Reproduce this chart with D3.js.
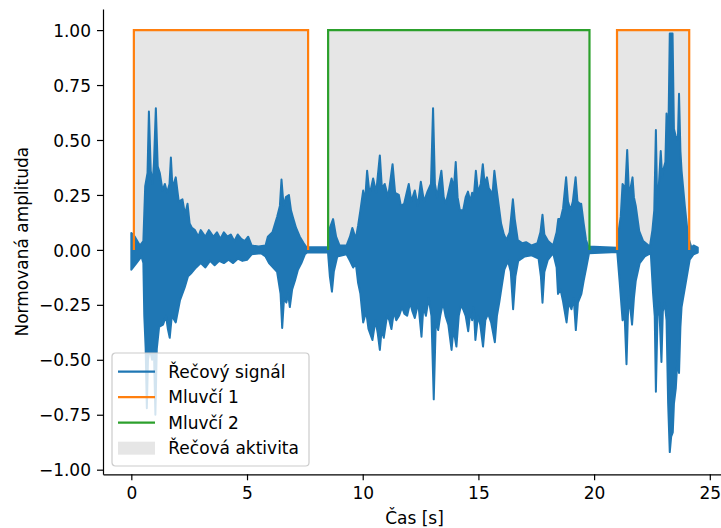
<!DOCTYPE html>
<html>
<head>
<meta charset="utf-8">
<script src="https://cdn.jsdelivr.net/npm/d3@7"></script>
<style>
  body { margin: 0; background: #fff; }
  svg { display: block; font-family: "DejaVu Sans", sans-serif; }
</style>
</head>
<body>
<div id="wrapper"></div>
<script>

// envelope of the speech signal: [time s, amplitude]
const upperEnvelope = [
  [0, 0.077], [0.15, 0.06], [0.37, 0.02], [0.52, 0.04], [0.6, 0.29], [0.7, 0.35],
  [0.76, 0.63], [0.84, 0.36], [0.92, 0.30], [0.98, 0.40], [1.06, 0.645], [1.14, 0.38],
  [1.23, 0.35], [1.35, 0.27], [1.45, 0.30], [1.55, 0.26], [1.65, 0.30], [1.71, 0.42],
  [1.78, 0.28], [1.92, 0.33], [2.05, 0.22], [2.21, 0.23], [2.32, 0.16], [2.43, 0.21],
  [2.52, 0.12], [2.62, 0.10], [2.75, 0.09], [2.9, 0.06], [3.0, 0.09], [3.2, 0.06],
  [3.35, 0.09], [3.55, 0.06], [3.7, 0.08], [3.85, 0.05], [4.0, 0.08], [4.15, 0.06],
  [4.3, 0.07], [4.45, 0.04], [4.6, 0.07], [4.75, 0.05], [4.9, 0.04], [5.05, 0.06],
  [5.2, 0.02], [5.5, 0.015], [5.8, 0.02], [5.9, 0.06], [6.1, 0.08], [6.3, 0.15],
  [6.42, 0.20], [6.49, 0.32], [6.58, 0.20], [6.68, 0.24], [6.81, 0.25], [6.9, 0.18],
  [6.98, 0.15], [7.12, 0.10], [7.28, 0.06], [7.45, 0.03], [7.57, 0.012], [8.5, 0.012],
  [8.58, 0.10], [8.72, 0.14], [8.85, 0.06], [9.0, 0.02], [9.3, 0.02], [9.45, 0.06],
  [9.55, 0.10], [9.7, 0.05], [9.8, 0.11], [9.9, 0.18], [10.02, 0.27], [10.1, 0.22],
  [10.19, 0.36], [10.3, 0.25], [10.45, 0.325], [10.58, 0.26], [10.74, 0.43], [10.83, 0.28],
  [10.95, 0.30], [11.1, 0.24], [11.29, 0.39], [11.4, 0.26], [11.56, 0.25], [11.65, 0.20],
  [11.79, 0.21], [11.9, 0.26], [11.99, 0.30], [12.1, 0.22], [12.25, 0.27], [12.38, 0.20],
  [12.51, 0.31], [12.65, 0.22], [12.8, 0.265], [12.95, 0.30], [13.04, 0.645], [13.12, 0.30],
  [13.22, 0.24], [13.3, 0.30], [13.4, 0.36], [13.5, 0.24], [13.59, 0.21], [13.7, 0.26],
  [13.84, 0.325], [13.94, 0.28], [14.02, 0.40], [14.1, 0.24], [14.2, 0.18], [14.34, 0.18],
  [14.45, 0.24], [14.55, 0.265], [14.65, 0.22], [14.73, 0.26], [14.8, 0.24], [14.89, 0.36],
  [14.98, 0.26], [15.1, 0.30], [15.19, 0.39], [15.27, 0.30], [15.37, 0.33], [15.45, 0.28],
  [15.52, 0.27], [15.6, 0.24], [15.69, 0.36], [15.78, 0.28], [15.88, 0.20], [15.98, 0.12],
  [16.1, 0.07], [16.21, 0.045], [16.35, 0.08], [16.49, 0.23], [16.57, 0.14], [16.7, 0.045],
  [16.9, 0.03], [17.06, 0.035], [17.3, 0.02], [17.55, 0.03], [17.68, 0.08], [17.77, 0.16],
  [17.85, 0.07], [18.01, 0.04], [18.23, 0.02], [18.38, 0.08], [18.45, 0.14], [18.55, 0.14],
  [18.66, 0.19], [18.79, 0.33], [18.87, 0.22], [18.98, 0.18], [19.08, 0.22], [19.2, 0.33],
  [19.28, 0.22], [19.38, 0.21], [19.44, 0.21], [19.55, 0.12], [19.65, 0.045], [19.75, 0.015],
  [21.0, 0.01], [21.08, 0.10], [21.15, 0.15], [21.23, 0.30], [21.35, 0.28], [21.43, 0.455],
  [21.5, 0.27], [21.54, 0.26], [21.66, 0.33], [21.72, 0.24], [21.8, 0.20], [21.95, 0.085],
  [22.12, 0.04], [22.41, 0.015], [22.52, 0.09], [22.6, 0.18], [22.67, 0.545], [22.72, 0.24],
  [22.77, 0.24], [22.88, 0.45], [22.94, 0.33], [22.98, 0.36], [23.08, 0.40], [23.13, 0.62],
  [23.2, 0.45], [23.27, 0.985], [23.39, 0.985], [23.45, 0.55], [23.52, 0.52], [23.62, 0.50],
  [23.67, 0.71], [23.73, 0.45], [23.78, 0.36], [23.92, 0.20], [24.06, 0.06], [24.21, 0.01],
  [24.3, 0.02], [24.4, 0.015], [24.48, 0.01],
]

const lowerEnvelope = [
  [0, -0.09], [0.22, -0.06], [0.44, -0.03], [0.52, -0.06], [0.56, -0.30], [0.62, -0.45],
  [0.67, -0.72], [0.72, -0.50], [0.8, -0.45], [0.9, -0.50], [0.98, -0.47], [1.04, -0.75],
  [1.1, -0.45], [1.2, -0.35], [1.37, -0.34], [1.5, -0.30], [1.58, -0.36], [1.66, -0.40],
  [1.75, -0.30], [1.92, -0.33], [2.1, -0.23], [2.31, -0.17], [2.45, -0.12], [2.6, -0.105],
  [2.8, -0.08], [3.0, -0.06], [3.2, -0.08], [3.4, -0.05], [3.6, -0.07], [3.8, -0.05],
  [4.0, -0.06], [4.2, -0.045], [4.4, -0.06], [4.6, -0.04], [4.8, -0.05], [5.0, -0.045],
  [5.2, -0.02], [5.6, -0.015], [5.8, -0.03], [5.95, -0.06], [6.3, -0.10], [6.45, -0.20],
  [6.52, -0.355], [6.6, -0.22], [6.7, -0.24], [6.78, -0.20], [6.85, -0.26], [6.95, -0.18],
  [7.07, -0.14], [7.2, -0.09], [7.35, -0.06], [7.5, -0.02], [7.6, -0.012], [8.5, -0.012],
  [8.58, -0.12], [8.67, -0.19], [8.75, -0.10], [8.9, -0.03], [9.3, -0.02], [9.45, -0.05],
  [9.59, -0.08], [9.7, -0.06], [9.8, -0.15], [9.9, -0.20], [10.02, -0.33], [10.15, -0.28],
  [10.25, -0.36], [10.42, -0.41], [10.55, -0.32], [10.65, -0.38], [10.74, -0.455], [10.82, -0.36],
  [10.91, -0.40], [11.05, -0.30], [11.15, -0.32], [11.24, -0.36], [11.35, -0.28], [11.45, -0.32],
  [11.57, -0.30], [11.7, -0.26], [11.8, -0.29], [11.92, -0.30], [12.05, -0.24], [12.15, -0.28],
  [12.25, -0.31], [12.4, -0.24], [12.54, -0.395], [12.62, -0.26], [12.73, -0.30], [12.85, -0.22],
  [12.97, -0.30], [13.07, -0.68], [13.16, -0.32], [13.26, -0.365], [13.35, -0.30], [13.47, -0.24],
  [13.58, -0.30], [13.7, -0.34], [13.84, -0.455], [13.92, -0.36], [14.05, -0.44], [14.15, -0.30],
  [14.25, -0.25], [14.34, -0.27], [14.45, -0.30], [14.56, -0.37], [14.65, -0.28], [14.73, -0.32],
  [14.8, -0.26], [14.87, -0.41], [14.98, -0.30], [15.08, -0.34], [15.2, -0.44], [15.3, -0.32],
  [15.42, -0.29], [15.55, -0.33], [15.71, -0.42], [15.8, -0.30], [15.9, -0.24], [16.0, -0.17],
  [16.12, -0.09], [16.28, -0.05], [16.4, -0.10], [16.5, -0.27], [16.6, -0.12], [16.72, -0.05],
  [17.0, -0.03], [17.3, -0.025], [17.6, -0.04], [17.7, -0.12], [17.77, -0.24], [17.85, -0.10],
  [18.0, -0.045], [18.23, -0.015], [18.38, -0.08], [18.44, -0.20], [18.55, -0.18], [18.65, -0.23],
  [18.81, -0.33], [18.9, -0.24], [19.02, -0.27], [19.12, -0.22], [19.21, -0.365], [19.3, -0.24],
  [19.45, -0.20], [19.55, -0.14], [19.67, -0.076], [19.78, -0.015], [21.0, -0.01], [21.1, -0.14],
  [21.23, -0.32], [21.32, -0.30], [21.4, -0.52], [21.46, -0.30], [21.51, -0.21], [21.64, -0.34],
  [21.72, -0.22], [21.8, -0.14], [21.97, -0.06], [22.19, -0.03], [22.45, -0.015], [22.55, -0.20],
  [22.62, -0.30], [22.67, -0.645], [22.74, -0.30], [22.81, -0.24], [22.91, -0.51], [22.97, -0.28],
  [23.05, -0.24], [23.13, -0.32], [23.2, -0.70], [23.27, -0.92], [23.33, -0.85], [23.4, -0.83],
  [23.45, -0.70], [23.53, -0.63], [23.6, -0.50], [23.67, -0.56], [23.73, -0.35], [23.78, -0.26],
  [23.96, -0.15], [24.13, -0.045], [24.3, -0.02], [24.48, -0.012],
]

// speaker turns [start s, end s]
const speaker1Turns = [[0.11, 7.64], [20.99, 24.11]]
const speaker2Turns = [[8.505, 19.8]]

const xTicks = [0, 5, 10, 15, 20, 25]
const yTicks = [-1, -0.75, -0.5, -0.25, 0, 0.25, 0.5, 0.75, 1]
const legendLabels = ["Řečový signál", "Mluvčí 1", "Mluvčí 2", "Řečová aktivita"]

const colors = {
  signal: "#1f77b4",
  speaker1: "#ff7f0e",
  speaker2: "#2ca02c",
  activity: "rgba(128,128,128,0.2)",
}


// dimensions
const width = 721
const height = 528
const fontSize = 17

const svg = d3.select("#wrapper")
  .append("svg")
    .attr("width", width)
    .attr("height", height)

const xScale = d3.scaleLinear()
  .domain([-1.224, 25.70])
  .range([103, 726])

const yScale = d3.scaleLinear()
  .domain([-1.021, 1.096])
  .range([474.3, 9])


// activity fill (0..1 over each speaker turn)
const allTurns = [...speaker1Turns, ...speaker2Turns]
const areaGen = d3.area()
  .x(d => xScale(d))
  .y0(yScale(0))
  .y1(yScale(1))

svg.selectAll(".activity")
  .data(allTurns)
  .join("path")
    .attr("class", "activity")
    .attr("d", d => areaGen(d))
    .attr("fill", colors.activity)


// signal: upper envelope forward, lower envelope back
const lineGen = d3.line()
  .x(d => xScale(d[0]))
  .y(d => yScale(d[1]))

const outline = [...upperEnvelope, ...lowerEnvelope.slice().reverse()]
svg.append("path")
    .attr("d", lineGen(outline) + "Z")
    .attr("fill", colors.signal)
    .attr("stroke", colors.signal)
    .attr("stroke-width", 2)
    .attr("stroke-linejoin", "round")


// speaker step lines
const turnLine = t => lineGen([[t[0], 0], [t[0], 1], [t[1], 1], [t[1], 0]])

svg.selectAll(".spk1")
  .data(speaker1Turns)
  .join("path")
    .attr("class", "spk1")
    .attr("d", turnLine)
    .attr("fill", "none")
    .attr("stroke", colors.speaker1)
    .attr("stroke-width", 2.2)

svg.selectAll(".spk2")
  .data(speaker2Turns)
  .join("path")
    .attr("class", "spk2")
    .attr("d", turnLine)
    .attr("fill", "none")
    .attr("stroke", colors.speaker2)
    .attr("stroke-width", 2.2)


// axes
const xAxis = svg.append("g")
    .attr("transform", `translate(0, ${yScale.range()[0]})`)
    .call(d3.axisBottom(xScale)
      .tickValues(xTicks)
      .tickFormat(d3.format("d"))
      .tickSize(6)
      .tickPadding(7)
      .tickSizeOuter(0))

const yAxis = svg.append("g")
    .attr("transform", `translate(${xScale.range()[0]}, 0)`)
    .call(d3.axisLeft(yScale)
      .tickValues(yTicks)
      .tickFormat(d3.format(".2f"))
      .tickSize(6)
      .tickPadding(6)
      .tickSizeOuter(0))

for (const ax of [xAxis, yAxis]) {
  ax.select(".domain").attr("stroke-width", 1.2).attr("stroke", "#000")
  ax.selectAll(".tick line").attr("stroke-width", 1.2).attr("stroke", "#000")
  ax.selectAll(".tick text")
      .attr("fill", "#000")
      .style("font-size", `${fontSize}px`)
      .style("font-family", "DejaVu Sans")
}
yAxis.selectAll(".tick text").attr("dy", "0.36em")

svg.append("text")
    .attr("x", (xScale.range()[0] + xScale.range()[1]) / 2)
    .attr("y", 524)
    .attr("text-anchor", "middle")
    .style("font-size", `${fontSize}px`)
    .text("Čas [s]")

svg.append("text")
    .attr("transform", `translate(27.5, ${(yScale.range()[0] + yScale.range()[1]) / 2}) rotate(-90)`)
    .attr("text-anchor", "middle")
    .style("font-size", `${fontSize}px`)
    .text("Normovaná amplituda")


// legend
const legend = svg.append("g")
    .attr("transform", "translate(112, 353)")

legend.append("rect")
    .attr("width", 197)
    .attr("height", 113)
    .attr("rx", 3.5)
    .attr("fill", "rgba(255,255,255,0.8)")
    .attr("stroke", "#cccccc")
    .attr("stroke-width", 1.2)

const rowY = i => 18.7 + i * 25.5
const handleColors = [colors.signal, colors.speaker1, colors.speaker2]

legendLabels.forEach((label, i) => {
  if (i < 3) {
    legend.append("line")
        .attr("x1", 6)
        .attr("x2", 43)
        .attr("y1", rowY(i))
        .attr("y2", rowY(i))
        .attr("stroke", handleColors[i])
        .attr("stroke-width", 2.2)
  } else {
    legend.append("rect")
        .attr("x", 6)
        .attr("y", rowY(i) - 6.5)
        .attr("width", 37)
        .attr("height", 13)
        .attr("fill", colors.activity)
  }
  legend.append("text")
      .attr("x", 56.3)
      .attr("y", rowY(i) + 6.2)
      .style("font-size", `${fontSize}px`)
      .text(label)
})

</script>
</body>
</html>
